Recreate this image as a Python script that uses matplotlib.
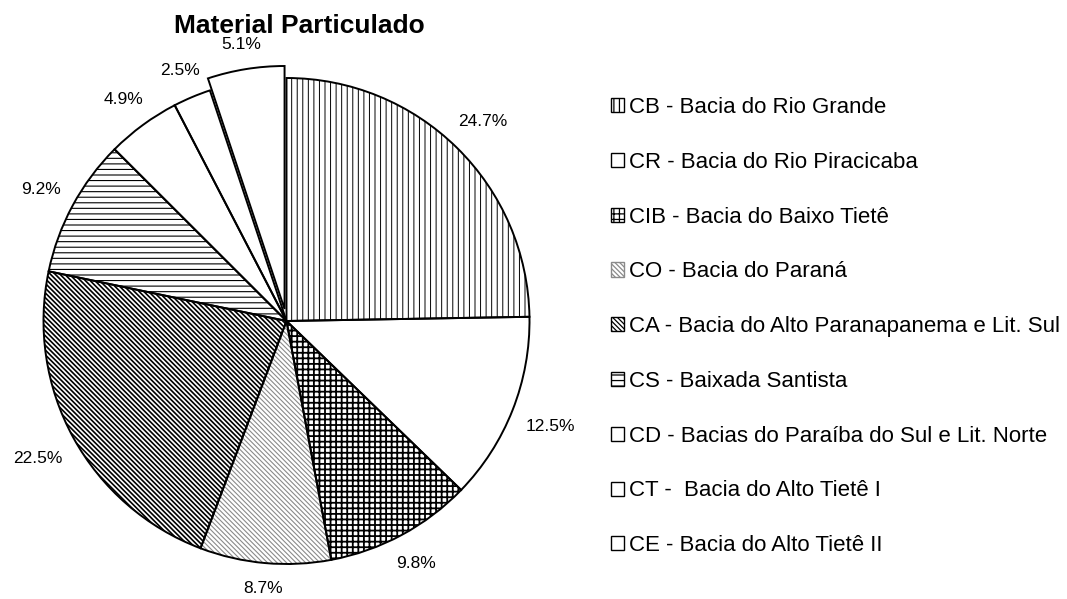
import matplotlib
matplotlib.use('Agg')
import numpy as np
import matplotlib.pyplot as plt
from matplotlib.patches import Patch

plt.rcParams['font.family'] = ['Liberation Sans', 'DejaVu Sans']
plt.rcParams['hatch.linewidth'] = 0.9

# data
labels = ['CB - Bacia do Rio Grande',
          'CR - Bacia do Rio Piracicaba',
          'CIB - Bacia do Baixo Tietê',
          'CO - Bacia do Paraná',
          'CA - Bacia do Alto Paranapanema e Lit. Sul',
          'CS - Baixada Santista',
          'CD - Bacias do Paraíba do Sul e Lit. Norte',
          'CT -  Bacia do Alto Tietê I',
          'CE - Bacia do Alto Tietê II']
values = [24.7, 12.5, 9.8, 8.7, 22.5, 9.2, 4.9, 2.5, 5.1]
hatches = ['|||', '', '+++', '\\' * 7, '\\' * 7, '---', '', '', '']
hatch_colors = ['black', 'black', 'black', '#8a8a8a', 'black', 'black', 'black', 'black', 'black']
hatch_widths = [0.7, 0.7, 1.3, 0.8, 1.2, 0.8, 0.7, 0.7, 0.7]
explode = [0, 0, 0, 0, 0, 0, 0, 0, 0.05]

fig = plt.figure(figsize=(10.67, 5.99), dpi=100)
W, H = 1067, 599
# pie centre and radius in pixels
cx, cy, r = 286.5, 321, 243
lim = 1.15
ax = fig.add_axes([(cx - lim * r) / W, (H - cy - lim * r) / H,
                   2 * lim * r / W, 2 * lim * r / H])

# hatched fills
wedges, _ = ax.pie(values, startangle=90, counterclock=False, explode=explode,
                   hatch=hatches, colors=['white'] * len(values),
                   wedgeprops=dict(linewidth=0))
for w, c, lw in zip(wedges, hatch_colors, hatch_widths):
    w.set_edgecolor(c)
    if hasattr(w, 'set_hatch_linewidth'):
        w.set_hatch_linewidth(lw)

# outlines
ax.pie(values, startangle=90, counterclock=False, explode=explode,
       wedgeprops=dict(fill=False, edgecolor='black', linewidth=1.4))
ax.set_aspect('auto')
ax.set_xlim(-lim, lim)
ax.set_ylim(-lim, lim)

# percentage labels, a fixed gap outside the rim (like the spreadsheet did)
fig.canvas.draw()
renderer = fig.canvas.get_renderer()
gap = 15
for w, v in zip(wedges, values):
    theta = np.deg2rad((w.theta1 + w.theta2) / 2)
    ux, uy = np.cos(theta), np.sin(theta)
    edge = (w.center[0] + w.r * ux, w.center[1] + w.r * uy)
    t = ax.annotate(f'{v:.1f}%', xy=edge, xytext=(0, 0), textcoords='offset pixels',
                    ha='center', va='center', fontsize=12.5)
    bb = t.get_window_extent(renderer)
    d = abs(ux) * bb.width / 2 + abs(uy) * 7.5 + gap
    t.set_position((ux * d, uy * d - 1))

fig.text(299 / W, 1 - 26 / H, 'Material Particulado', ha='center', va='center',
         fontsize=19, fontweight='bold')

handles = []
for h, c, lw in zip(hatches, hatch_colors, hatch_widths):
    p = Patch(facecolor='white', edgecolor=c, hatch=h, linewidth=1)
    if hasattr(p, 'set_hatch_linewidth'):
        p.set_hatch_linewidth(lw)
    handles.append(p)
fig.legend(handles, labels, loc='upper left', bbox_to_anchor=(611 / W, 1 - 97 / H),
           frameon=False, fontsize=16, handlelength=0.6, handleheight=0.6,
           handletextpad=0.2, labelspacing=1.52, borderpad=0, borderaxespad=0)

fig.savefig('out.png', dpi=100, facecolor='white')
